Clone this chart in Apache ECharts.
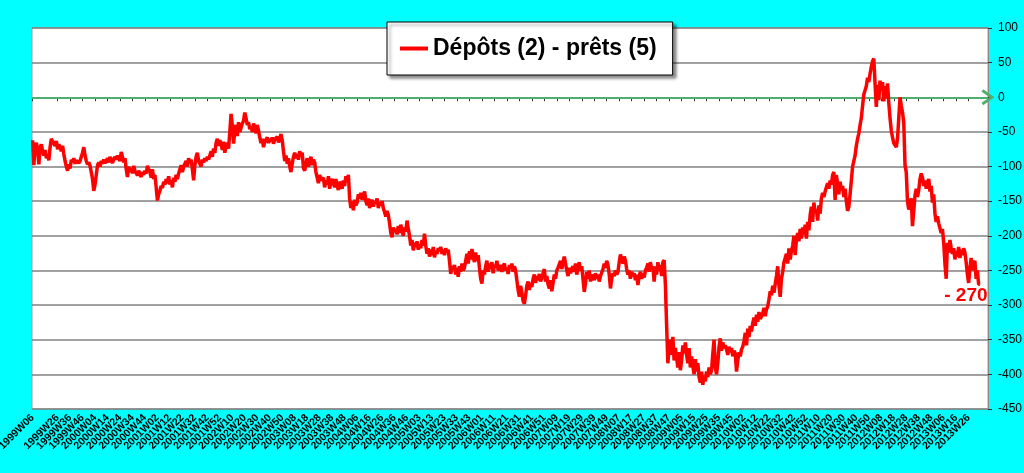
<!DOCTYPE html>
<html>
<head>
<meta charset="utf-8">
<script src="https://cdn.jsdelivr.net/npm/echarts@6/dist/echarts.min.js"></script>
<style>
html,body{margin:0;padding:0;background:#00ffff;}
#chart{width:1024px;height:473px;}
</style>
</head>
<body>
<div id="chart"></div>
<script>
// Weekly categories: first week and ISO weeks per year
const firstYear = 1999;
const firstWeek = 6;
const weeksPerYear = {1999:52,2000:52,2001:52,2002:52,2003:52,2004:53,2005:52,2006:52,2007:52,2008:52,2009:53,2010:52,2011:52,2012:52,2013:52};
const categoryCount = 766;

// Dépôts (2) - prêts (5)
const depots1 = [
-62,-98,-70,-66,-74,-97,-72,-68,-78,-84,
-76,-88,-82,-91,
-72,-60,-64,
-66,-70,-63,-75,-68,-72,
-78,-70,-82,
-92,-100,-106,-97,-103,
-90,-94,-88,-96,-91,-89,-95,-92,-86,
-80,-72,-84,
-92,-97,-94,-99,
-108,-118,-135,-126,-112,
-98,-94,-100,-92,-96,-90,-95,
-92,-88,-94,-86,-90,-95,-89,
-86,-90,-84,-88,
-92,-79,-86,-94,-88,
-104,-115,-100,-108,
-102,-110,-99,-106,
-108,-113,-106,-111,-115,-108,-112,-106,-110,-99,-104,
-108,-116,-104,-118,-112,
-130,-149,-140,
-135,-128,-131,-122,-126,
-118,-124,-114,-126,-120,-130,-116,-122,-112,-118,-110,
-104,-98,-108,-100,-96,
-92,-100,-88,-95,-90,
-104,-120,-98,
-86,-80,-92,
-96,-100,-90,-94,-88,-92,-86,-90,
-84,-78,-86,-74,-80,
-66,-60,-70,-62,
-68,-76,-64,-80,-70,-66,-74,
-50,-24,-40,
-67,
-48,-40,-56,-36,-50,-44,-38,
-34,-22,-30,-40,
-36,-46,-42,-50,-38,-44,-52,-40,-48,
-58,-66,-60,-72,-64,
-62,-58,-66,-60,-64,-58,-67,-61,-63,-57,-65,-60,-53,-62,
-78,-92,-84,-96,-88,
-100,-108,-96,
-86,-80,-88,-82,-90,-78,-84,-80,
-102,-106,
-96,-88,-100,-92,-86,-98,-90,-94,
-108,-116,-124,-112,-120,-118,
-116,-130,-120,-126,-114,-132,-122,-118,
-124,-130,-118,-128,-134,-122,-126,-132,-120,-128,
-114,-120,-112
];
const depots2 = [
-146,-160,-150,-163,-148,-156,-152,
-140,-146,-138,-148,-142,-136,
-150,-156,-146,-160,-152,-148,-158,-150,-154,-146,-160,-152,-156,-150,
-160,
-166,-172,-164,-170,
-182,-196,-202,-188,-194,
-190,-198,-186,-196,-184,-192,-200,-188,-194,-178,-190,
-200,-214,-206,-221,-210,
-216,-208,-220,-212,-218,-206,-214,-197,
-214,-226,-218,-230,-220,-228,-216,-231,-222,-226,-218,
-222,-216,-226,-220,-228,-218,-224,-220,
-236,-255,-244,
-248,-242,-256,-246,-259,-244,-252,-240,-250,-246,
-236,-226,-240,-222,-234,-219,-230,-238,-224,-236,-228,
-246,-262,-269,-250,-256,
-244,-236,-252,-240,-248,-238,-254,-242,-246,-236,-250,
-248,-242,-252,-244,-240,-250,-246,-255,-242,-248,-240,-252,-244,-250,
-264,-278,-288,-272,-282,
-294,-298,-286,
-272,-266,-278,-268,-274,
-262,-256,-268,-258,-264,-255,-266,-260,
-262,-248,-266,-258,-270,
-276,-264,-280,-268,-256,-262,-250,-246,
-244,-236,-248,-238,-230,-228,
-250,-258,-246,-254,-248,
-244,-252,-240,-256,-246,-238,-250,-244,
-262,-281,-268,
-252,-262,-250,-266,-256,
-258,-264,-254,-262,-256,-266,-258,-260,
-248,-240,-246,-236,-242,
-256,-276,-262,-254,
-258,-250,-256,-252,
-238,-227,-234,-240,-230,-236,
-248,-256,-250,-262,-252,-258,-254,-264,-256,-271,
-258,-252,-262,-254,-260,-250,
-246,-240,-252,-238,-248,-244,
-266,-244,-256,-238,-250,-242,-258,
-238,-235
];
const depots3 = [
-270,-330,-384,-360,
-350,-372,-346,-380,-362,
-376,-390,-368,-394,-380,
-358,-370,-354,-372,
-384,-362,-390,-374,
-388,-400,-378,-396,-384,
-404,-412,-396,-415,-402,-410,
-396,-404,-390,-400,-394,
-370,-350,
-390,-400,-384,
-360,-348,-366,-354,-362,-358,
-364,-372,-360,-368,-362,-374,-366,-370,
-396,-380,
-368,-374,-364,-360,
-352,-340,-358,-334,-346,-330,-338,
-326,-318,-330,-314,-324,-310,-320,-316,
-312,-304,-316,-306,-302,
-292,-280,-286,-272,-282,-270,
-258,-244,-272,-288,-262,
-252,-238,-232,
-226,-240,-218,-234,-222,
-214,-200,-228,-206,
-196,-208,-190,-204,-188,-198,
-184,-204,-180,-192,
-170,-158,-180,-152,-166,
-162,-178,-156,-168,
-146,-138,-144,-136,
-130,-124,-132,-120,-126,
-112,-108,-148,
-112,-126,-140,-122,-134,-128,-144,-132,
-150,-164,-158,
-140,-120,-100,-92,
-84,-70,-60,-52,
-40,-30,
-12,4,10,
16,28,22,34,
44,52,56,
20,-14,
18,-4,24,10,
22,-6,16,-2,20,-8,
-30,-48,-58,-66,
-64,-72,
-60,-30,0,
-12,-22,-36,
-98,-108,
-150,-162,-154,
-146,-186,-164,
-142,-132,-144,-134,
-118,-110,
-116,-128,-120,-132,-124,-118,
-136,-128,-152,-140,
-168,-180,-172,-182,
-184,-196,-190,-210,
-240,-262,
-210,-224,-206,-218,
-226,-218,-234,-222,-230,-216,-232,-220,-228,-218,-224,
-238,-256,-268,-248,
-232,-250,-240,
-236,-262,-250,-270,-270
];
const lastLabel = '- 270';
const yMin = -450, yMax = 100, yStep = 50;
const labelEvery = 10;

const values = depots1.concat(depots2, depots3);

const categories = [];
let yr = firstYear, wk = firstWeek;
for (let i = 0; i < categoryCount; i++) {
  categories.push(yr + 'W' + (wk < 10 ? '0' + wk : '' + wk));
  wk++;
  if (wk > weeksPerYear[yr]) { wk = 1; yr++; }
}

const chart = echarts.init(document.getElementById('chart'));
const FONT = 'Liberation Sans, Arial, sans-serif';
const everyN = function (idx) { return idx % labelEvery === 0; };
chart.setOption({
  backgroundColor: '#00ffff',
  animation: false,
  grid: {
    left: 32, right: 36, top: 28, bottom: 64,
    outerBoundsMode: 'none',
    containLabel: false,
    show: true, backgroundColor: '#ffffff', borderColor: '#9a9a9a', borderWidth: 1
  },
  legend: {
    data: ['Dépôts (2) - prêts (5)'],
    left: 387, top: 22,
    padding: [15, 16, 15, 13],
    itemGap: 5,
    backgroundColor: '#ffffff',
    borderColor: '#000000', borderWidth: 1,
    shadowColor: 'rgba(0,0,0,0.45)', shadowBlur: 3, shadowOffsetX: 3, shadowOffsetY: 3,
    icon: 'rect', itemWidth: 28, itemHeight: 4,
    textStyle: { fontFamily: FONT, fontSize: 23, fontWeight: 'bold', color: '#000' }
  },
  xAxis: {
    type: 'category',
    data: categories,
    boundaryGap: true,
    axisLine: { show: true, lineStyle: { color: '#8a8a8a', width: 1 } },
    axisTick: { show: true, interval: everyN, alignWithLabel: true, length: 4, lineStyle: { color: '#333' } },
    axisLabel: {
      interval: everyN, rotate: 45, margin: 7, hideOverlap: false, showMinLabel: true,
      fontFamily: FONT, fontSize: 10.5, fontWeight: 'bold', color: '#000'
    },
    splitLine: { show: false }
  },
  yAxis: {
    type: 'value',
    position: 'right',
    min: yMin, max: yMax, interval: yStep,
    axisLine: { show: true, lineStyle: { color: '#8a8a8a', width: 1 } },
    axisTick: { show: true, length: 4, lineStyle: { color: '#333' } },
    axisLabel: { margin: 10, fontFamily: FONT, fontSize: 12, color: '#000' },
    splitLine: { show: true, lineStyle: { color: '#808080', width: 1.5 } }
  },
  series: [
    {
      name: 'Dépôts (2) - prêts (5)',
      type: 'line',
      data: values,
      showSymbol: false,
      symbol: 'none',
      color: '#ff0000',
      lineStyle: { color: '#ff0000', width: 3.5 },
      markLine: {
        silent: true,
        z: 1,
        symbol: ['none', 'path://M0,13 L10,0 L20,13 L17,15 L10,5.5 L3,15 Z'],
        symbolSize: [16, 13],
        label: { show: false },
        lineStyle: { color: '#4fae6e', width: 2, type: 'solid' },
        data: [{ yAxis: 0, lineStyle: { type: 'solid', color: '#4fae6e', width: 2 } }]
      },
      markPoint: {
        symbol: 'circle', symbolSize: 0,
        label: {
          show: true, formatter: lastLabel, offset: [-14, 11],
          fontFamily: FONT, fontSize: 19, fontWeight: 'bold', color: '#ff0000'
        },
        data: [{ coord: [values.length - 1, values[values.length - 1]] }]
      }
    }
  ]
});
</script>
</body>
</html>
